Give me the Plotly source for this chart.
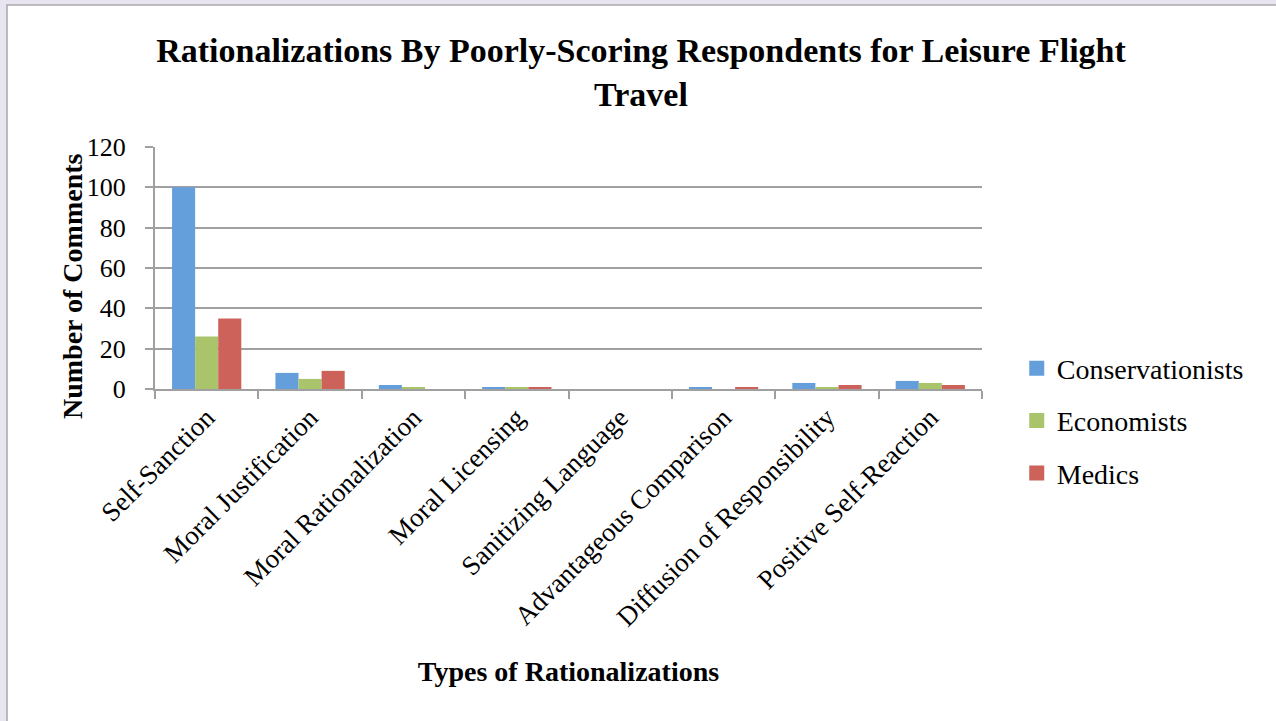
import plotly.graph_objects as go

categories = [
    "Self-Sanction",
    "Moral Justification",
    "Moral Rationalization",
    "Moral Licensing",
    "Sanitizing Language",
    "Advantageous Comparison",
    "Diffusion of Responsibility",
    "Positive Self-Reaction",
]
conservationists = [100, 8, 2, 1, 0, 1, 3, 4]
economists = [26, 5, 1, 1, 0, 0, 1, 3]
medics = [35, 9, 0, 1, 0, 1, 2, 2]

series = [
    ("Conservationists", conservationists, "#659FDB"),
    ("Economists", economists, "#A9C46B"),
    ("Medics", medics, "#CD625B"),
]

FONT = "Liberation Serif"
W, H = 1276, 721
ML, MR, MT, MB = 155, W - 982, 147, H - 389
PW, PH = W - ML - MR, H - MT - MB

fig = go.Figure()
for name, vals, color in series:
    fig.add_trace(go.Bar(
        name=name, x=categories, y=vals,
        marker=dict(color=color, line=dict(width=0)),
        legendgroup=name, showlegend=False,
    ))

# legend entries with larger square swatches
for name, vals, color in series:
    fig.add_trace(go.Scatter(
        name=name, x=[None], y=[None], mode="markers",
        marker=dict(symbol="square", size=15, color=color),
        legendgroup=name, showlegend=True, hoverinfo="skip",
    ))

# white chart sheet over the lavender page, with a thin grey frame
fig.add_shape(
    type="rect", xref="paper", yref="paper", layer="below",
    x0=(7 - ML) / PW, x1=(W + 20 - ML) / PW,
    y0=-(MB + 20) / PH, y1=1 + (MT - 5) / PH,
    fillcolor="white", line=dict(color="#A8A8A8", width=1.5),
)

# vertical axis title, set slightly below the plot centre
fig.add_annotation(
    text="<b>Number of Comments</b>", textangle=-90,
    xref="paper", yref="paper",
    x=(72 - ML) / PW, y=(389 - 286) / PH,
    xanchor="center", yanchor="middle", showarrow=False,
    font=dict(family=FONT, size=28, color="black"),
)

fig.update_layout(
    width=W, height=H,
    margin=dict(l=ML, r=MR, t=MT, b=MB),
    paper_bgcolor="#E9E5F0",
    plot_bgcolor="white",
    barmode="group",
    bargap=0.33,
    bargroupgap=0,
    font=dict(family=FONT, color="black"),
    title=dict(
        text="<b>Rationalizations By Poorly-Scoring Respondents for Leisure Flight<br>Travel</b>",
        x=641 / W, xanchor="center", yref="container", y=1 - 62 / H, yanchor="top",
        font=dict(family=FONT, size=34, color="black"),
    ),
    xaxis=dict(
        tickangle=-45, tickfont=dict(size=27),
        showline=True, linecolor="#A0A0A0", linewidth=2,
        ticks="outside", tickson="boundaries", ticklen=8, tickcolor="#A0A0A0", tickwidth=2,
        showgrid=False,
        title=dict(text="<b>Types of Rationalizations</b>", font=dict(size=28), standoff=30),
    ),
    yaxis=dict(
        range=[0, 120], dtick=20, tickfont=dict(size=26),
        showline=True, linecolor="#A0A0A0", linewidth=2,
        ticks="outside", ticklen=8, tickcolor="#A0A0A0", tickwidth=2,
        ticklabelstandoff=14,
        showgrid=True, gridcolor="#A0A0A0", gridwidth=1.5,
        zeroline=False,
    ),
    legend=dict(
        x=1.042, xanchor="left", y=-0.132, yanchor="middle",
        font=dict(family=FONT, size=28),
        tracegroupgap=13, itemwidth=30,
        bgcolor="rgba(0,0,0,0)",
    ),
    showlegend=True,
)

fig.write_html("out.html")
